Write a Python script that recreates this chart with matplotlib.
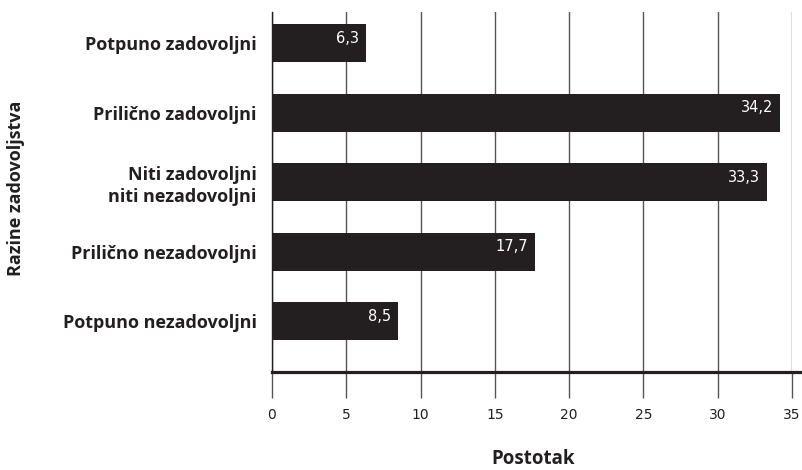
import matplotlib
matplotlib.use("Agg")
import matplotlib.pyplot as plt

# -----------------------------
# Data
# -----------------------------
categories = [
    "Potpuno zadovoljni",
    "Prilično zadovoljni",
    "Niti zadovoljni\nniti nezadovoljni",
    "Prilično nezadovoljni",
    "Potpuno nezadovoljni",
]
values = [6.3, 34.2, 33.3, 17.7, 8.5]
value_labels = ["6,3", "34,2", "33,3", "17,7", "8,5"]
x_ticks = [0, 5, 10, 15, 20, 25, 30, 35]

bar_color = "#231f20"
grid_color = "#555555"
label_font = "Open Sans"

# -----------------------------
# Plot
# -----------------------------
fig = plt.figure(figsize=(8.02, 4.70), dpi=100)
x0, x1 = 272, 792
ax = fig.add_axes([x0 / 802, 1 - 372 / 470, (x1 - x0) / 802, (372 - 12) / 470])

ypos = list(range(len(categories)))
ax.barh(ypos, values, height=0.55, color=bar_color, zorder=3)

for y, v, lab in zip(ypos, values, value_labels):
    ax.text(v - 0.45, y - 0.07, lab, color="white", ha="right", va="center",
            fontsize=10.5, family="DejaVu Sans", zorder=4)

ax.set_xlim(0, 35)
ax.set_ylim(4.73, -0.45)
ax.set_xticks(x_ticks)
ax.set_xticklabels([str(t) for t in x_ticks], family="DejaVu Sans", fontsize=10, color="#231f20")
ax.set_yticks(ypos)
ax.set_yticklabels(categories, fontsize=13, fontweight="bold", family=label_font,
                   color="#231f20", linespacing=1.3)

ax.grid(axis="x", color=grid_color, linewidth=1, zorder=0)
ax.tick_params(axis="x", length=19, width=1, color=grid_color, pad=7)
ax.tick_params(axis="y", length=0, pad=11)

for side in ["top", "right"]:
    ax.spines[side].set_visible(False)
ax.spines["left"].set_color("#231f20")
ax.spines["left"].set_linewidth(1)
ax.spines["bottom"].set_visible(False)

# thick baseline running past the plot to the edge
ax.plot([0, (802 - x0) / (x1 - x0)], [0, 0], transform=ax.transAxes, color="#231f20",
        linewidth=2.3, clip_on=False, zorder=5)

fig.text(533 / 802, 1 - 459 / 470, "Postotak", ha="center", va="center",
         fontsize=13.5, fontweight="bold", family=label_font, color="#231f20")
fig.text(16 / 802, 1 - 188 / 470, "Razine zadovoljstva", ha="center", va="center",
         rotation=90, fontsize=13, fontweight="bold", family=label_font, color="#231f20")

fig.savefig("out.png", dpi=100)
